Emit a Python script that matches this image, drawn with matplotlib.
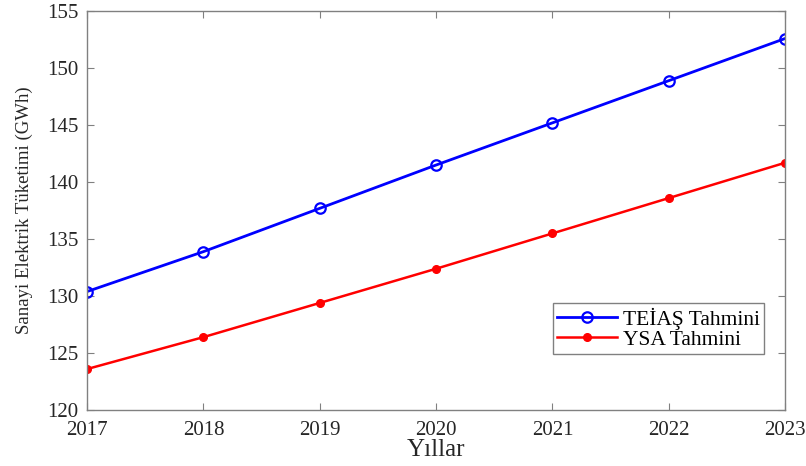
import matplotlib.pyplot as plt

years = [2017, 2018, 2019, 2020, 2021, 2022, 2023]
teias = [130.4, 133.9, 137.7, 141.5, 145.2, 148.9, 152.6]
ysa = [123.6, 126.4, 129.4, 132.4, 135.5, 138.6, 141.7]

plt.rcParams['font.family'] = ['Liberation Serif', 'DejaVu Serif']

fig = plt.figure(figsize=(8.06, 4.66), dpi=100)
ax = fig.add_axes([0.108, 0.12, 0.866, 0.856])

ax.plot(years, teias, color='#0000ff', lw=2, marker='o', ms=7.5,
        mfc='none', mew=1.6, label='TEİAŞ Tahmini')
ax.plot(years, ysa, color='#ff0000', lw=1.8, marker='o', ms=5.5,
        label='YSA Tahmini')

ax.set_xlim(2017, 2023)
ax.set_ylim(120, 155)
ax.set_xticks(years)
ax.set_yticks(range(120, 156, 5))

ax.tick_params(direction='in', length=5, width=0.8, color='#808080',
               labelcolor='#262626', labelsize=15, top=True, right=True)
ax.tick_params(axis='x', pad=8)
ax.tick_params(axis='y', pad=6)
for s in ax.spines.values():
    s.set_color('#808080')
    s.set_linewidth(1.0)

ax.set_xlabel('Yıllar', fontsize=18, color='#262626', labelpad=-1)
ax.set_ylabel('Sanayi Elektrik Tüketimi (GWh)', fontsize=13.5, color='#262626',
              labelpad=10)

leg = ax.legend(loc='lower right', bbox_to_anchor=(0.97, 0.14), fontsize=15.5,
                fancybox=False, edgecolor='#808080', framealpha=1,
                handlelength=2.8, borderpad=0.2, labelspacing=0.0,
                handletextpad=0.25, borderaxespad=0)
leg.get_frame().set_linewidth(1.0)

fig.savefig('out.png', dpi=100)
